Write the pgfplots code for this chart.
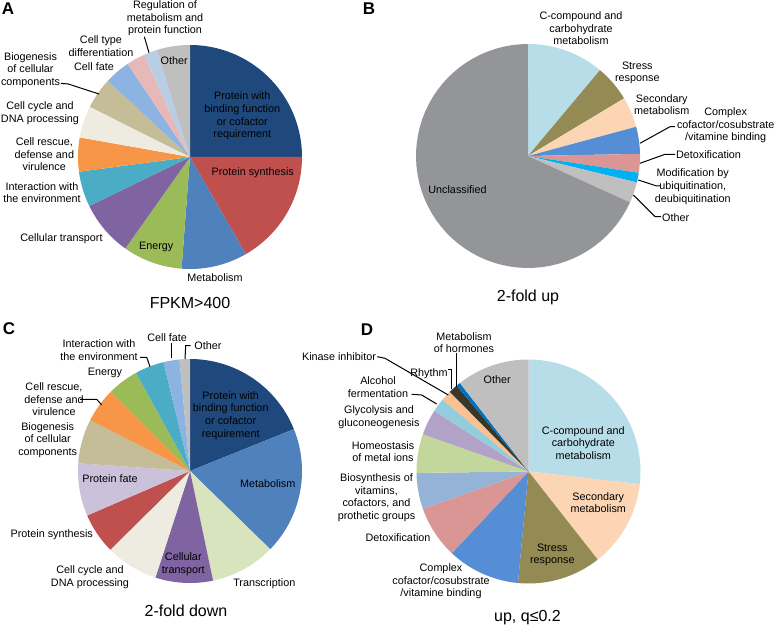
\documentclass[border=0pt]{standalone}
\usepackage{fontspec}
\setmainfont{Liberation Sans}
\usepackage{pgfplots}
\pgfplotsset{compat=1.18}
% colours
\definecolor{cNavy}{HTML}{1F497D}
\definecolor{cRed}{HTML}{C0504D}
\definecolor{cBlue}{HTML}{4F81BD}
\definecolor{cGreen}{HTML}{9BBB59}
\definecolor{cPurple}{HTML}{8064A2}
\definecolor{cTeal}{HTML}{4BACC6}
\definecolor{cOrange}{HTML}{F79646}
\definecolor{cCream}{HTML}{EEECE1}
\definecolor{cTan}{HTML}{C4BD97}
\definecolor{cLtBlue}{HTML}{8DB3E2}
\definecolor{cPink}{HTML}{E6B9B8}
\definecolor{cPaleBlue}{HTML}{B9CDE5}
\definecolor{cGray}{HTML}{BFBFBF}
\definecolor{cAqua}{HTML}{B7DEE8}
\definecolor{cOlive}{HTML}{948A54}
\definecolor{cPeach}{HTML}{FCD5B5}
\definecolor{cMidBlue}{HTML}{558ED5}
\definecolor{cRose}{HTML}{D99694}
\definecolor{cCyan}{HTML}{00B0F0}
\definecolor{cDkGray}{HTML}{939598}
\definecolor{cLtGreen}{HTML}{D7E4BD}
\definecolor{cLavender}{HTML}{CCC1DA}
\definecolor{cGrayBlue}{HTML}{95B3D7}
\definecolor{cPaleGreen}{HTML}{C3D69B}
\definecolor{cLilac}{HTML}{B3A2C7}
\definecolor{cSky}{HTML}{93CDDD}
\definecolor{cApricot}{HTML}{FAC090}
\definecolor{cDark}{HTML}{3B3728}
\definecolor{cRoyal}{HTML}{0070C0}
\newcommand\lab{\fontsize{10.8}{12.6}\selectfont}
\newcommand\ttl{\fontsize{16}{19}\selectfont}
\newcommand\pnl{\fontsize{17}{20}\selectfont\bfseries}
% pie: #1 cx, #2 cy, #3 radius, #4 list of percent/colour (clockwise from 12 o'clock)
\newcommand\pieslices[4]{%
  \gdef\piecum{0}%
  \foreach \v/\c in {#4}{%
    \pgfmathsetmacro\newcum{\piecum+\v}%
    \pgfmathsetmacro\pa{\piecum*3.6}%
    \pgfmathsetmacro\pb{\newcum*3.6}%
    \edef\tmp{\noexpand\addplot[draw=none,fill=\c,domain=\pa:\pb,samples=60]
      ({#1+#3*sin(x)},{#2-#3*cos(x)}) -- (axis cs:#1,#2) -- cycle;}%
    \tmp
    \xdef\piecum{\newcum}%
  }%
}
\begin{document}
\begin{tikzpicture}
\begin{axis}[width=775pt,height=628pt,scale only axis,
  xmin=0,xmax=775,ymin=0,ymax=628,y dir=reverse,hide axis,clip=false]
% ---------- A : FPKM>400 ----------
\pieslices{190}{157}{112}{25.0/cNavy,16.7/cRed,9.5/cBlue,8.6/cGreen,8.0/cPurple,5.1/cTeal,4.9/cOrange,4.6/cCream,4.5/cTan,3.7/cLtBlue,2.7/cPink,1.9/cPaleBlue,4.8/cGray}
% ---------- B : 2-fold up ----------
\pieslices{528}{156}{112}{11.1/cAqua,5.3/cOlive,4.4/cPeach,3.9/cMidBlue,2.7/cRose,1.4/cCyan,3.0/cGray,68.2/cDkGray}
% ---------- C : 2-fold down ----------
\pieslices{190}{471}{112}{18.9/cNavy,18.4/cBlue,9.4/cLtGreen,8.3/cPurple,7.6/cCream,5.9/cRed,7.6/cLavender,6.4/cTan,5.0/cOrange,4.5/cGreen,4.2/cTeal,2.3/cLtBlue,1.5/cGray}
% ---------- D : up, q<=0.2 ----------
\pieslices{528.5}{471.5}{112}{26.8/cAqua,12.6/cPeach,12.1/cOlive,10.5/cMidBlue,7.6/cRose,5.2/cGrayBlue,5.6/cPaleGreen,3.7/cLilac,2.0/cSky,1.5/cApricot,1.3/cDark,0.6/cRoyal,10.5/cGray}
% leader lines
\addplot[black,line width=1pt] coordinates {(144.3,36.7) (149,52.7)};
\addplot[black,line width=1pt] coordinates {(61,83.3) (68.3,84) (99,94)};
\addplot[black,line width=1pt] coordinates {(640,143.3) (670,126.7) (675,126.7)};
\addplot[black,line width=1pt] coordinates {(640,163.3) (665,154.3) (675,154.3)};
\addplot[black,line width=1pt] coordinates {(638.3,180) (656.7,186) (661,186)};
\addplot[black,line width=1pt] coordinates {(633.3,195) (655,216.7) (661,216.7)};
\addplot[black,line width=1pt] coordinates {(80,399.3) (96.7,399.3) (101.7,405)};
\addplot[black,line width=1pt] coordinates {(140,357.3) (146.7,357.3) (150,366.7)};
\addplot[black,line width=1pt] coordinates {(171.7,343) (171.7,358.3)};
\addplot[black,line width=1pt] coordinates {(190.7,345.7) (185.7,345.7) (185,359)};
\addplot[black,line width=1pt] coordinates {(456.7,353.3) (456.7,386.7)};
\addplot[black,line width=1pt] coordinates {(448.3,369.3) (451.7,369.3) (451.7,389.3)};
\addplot[black,line width=1pt] coordinates {(377.3,356.7) (385,358.3) (448.3,395)};
\addplot[black,line width=1pt] coordinates {(411.7,394.3) (421.7,395) (436.7,404)};
% panel letters and titles
\node[font=\pnl] at (axis cs:8,9) {A};
\node[font=\pnl] at (axis cs:369,9) {B};
\node[font=\pnl] at (axis cs:9,329) {C};
\node[font=\pnl] at (axis cs:367,330) {D};
\node[font=\ttl] at (axis cs:190,303) {FPKM>400};
\node[font=\ttl] at (axis cs:528,297) {2-fold up};
\node[font=\ttl] at (axis cs:186,611) {2-fold down};
\node[font=\ttl] at (axis cs:527.5,618) {up, q≤0.2};
% labels A
\node[font=\lab,align=center] at (axis cs:165,18.5) {Regulation of\\metabolism and\\protein function};
\node[font=\lab,align=center] at (axis cs:101,46) {Cell type\\differentiation};
\node[font=\lab,align=center] at (axis cs:94,66.7) {Cell fate};
\node[font=\lab,align=center] at (axis cs:30.5,70) {Biogenesis\\of cellular\\components};
\node[font=\lab,align=center] at (axis cs:40,113.3) {Cell cycle and\\DNA processing};
\node[font=\lab,align=center] at (axis cs:44.3,154.5) {Cell rescue,\\defense and\\virulence};
\node[font=\lab,align=center] at (axis cs:42,192.5) {Interaction with\\the environment};
\node[font=\lab,align=center] at (axis cs:61.5,238.3) {Cellular transport};
\node[font=\lab,align=center] at (axis cs:156.2,246.7) {Energy};
\node[font=\lab,align=center] at (axis cs:215,277.3) {Metabolism};
\node[font=\lab,align=center] at (axis cs:252.7,172.7) {Protein synthesis};
\node[font=\lab,align=center] at (axis cs:242.3,116) {Protein with\\binding function\\or cofactor\\requirement};
\node[font=\lab,align=center] at (axis cs:174.2,60.7) {Other};
% labels B
\node[font=\lab,align=center] at (axis cs:581,28.2) {C-compound and\\carbohydrate\\metabolism};
\node[font=\lab,align=center] at (axis cs:637.3,72.7) {Stress\\response};
\node[font=\lab,align=center] at (axis cs:661.7,104.7) {Secondary\\metabolism};
\node[font=\lab,align=center] at (axis cs:725.7,125.6) {Complex\\cofactor/cosubstrate\\/vitamine binding};
\node[font=\lab,align=center] at (axis cs:708.5,154.3) {Detoxification};
\node[font=\lab,align=center] at (axis cs:692.7,186.7) {Modification by\\ubiquitination,\\deubiquitination};
\node[font=\lab,align=center] at (axis cs:675.7,217.3) {Other};
\node[font=\lab,align=center] at (axis cs:457.5,190) {Unclassified};
% labels C
\node[font=\lab,align=center] at (axis cs:230.7,415.5) {Protein with\\binding function\\or cofactor\\requirement};
\node[font=\lab,align=center] at (axis cs:267.7,484) {Metabolism};
\node[font=\lab,align=center] at (axis cs:264.3,584) {Transcription};
\node[font=\lab,align=center] at (axis cs:183.3,564.5) {Cellular\\transport};
\node[font=\lab,align=center] at (axis cs:90,577.5) {Cell cycle and\\DNA processing};
\node[font=\lab,align=center] at (axis cs:51.7,535) {Protein synthesis};
\node[font=\lab,align=center] at (axis cs:110,479) {Protein fate};
\node[font=\lab,align=center] at (axis cs:47.7,440.2) {Biogenesis\\of cellular\\components};
\node[font=\lab,align=center] at (axis cs:54,399.3) {Cell rescue,\\defense and\\virulence};
\node[font=\lab,align=center] at (axis cs:105,373.3) {Energy};
\node[font=\lab,align=center] at (axis cs:99,350.3) {Interaction with\\the environment};
\node[font=\lab,align=center] at (axis cs:167.2,337.7) {Cell fate};
\node[font=\lab,align=center] at (axis cs:208,345.7) {Other};
% labels D
\node[font=\lab,align=center] at (axis cs:464,342.5) {Metabolism\\of hormones};
\node[font=\lab,align=center] at (axis cs:429,373.3) {Rhythm};
\node[font=\lab,align=center] at (axis cs:339,356.5) {Kinase inhibitor};
\node[font=\lab,align=center] at (axis cs:378,387.2) {Alcohol\\fermentation};
\node[font=\lab,align=center] at (axis cs:379,417.5) {Glycolysis and\\gluconeogenesis};
\node[font=\lab,align=center] at (axis cs:383,451.8) {Homeostasis\\of metal ions};
\node[font=\lab,align=center] at (axis cs:376.5,497.8) {Biosynthesis of\\vitamins,\\cofactors, and\\prothetic groups};
\node[font=\lab,align=center] at (axis cs:398,538) {Detoxification};
\node[font=\lab,align=center] at (axis cs:441,581.4) {Complex\\cofactor/cosubstrate\\/vitamine binding};
\node[font=\lab,align=center] at (axis cs:497.2,380) {Other};
\node[font=\lab,align=center] at (axis cs:583.3,443) {C-compound and\\carbohydrate\\metabolism};
\node[font=\lab,align=center] at (axis cs:598.3,502.5) {Secondary\\metabolism};
\node[font=\lab,align=center] at (axis cs:552.3,554.7) {Stress\\response};
\end{axis}
\pgfresetboundingbox
\path (current axis.south west) rectangle (current axis.north east);
\end{tikzpicture}
\end{document}
